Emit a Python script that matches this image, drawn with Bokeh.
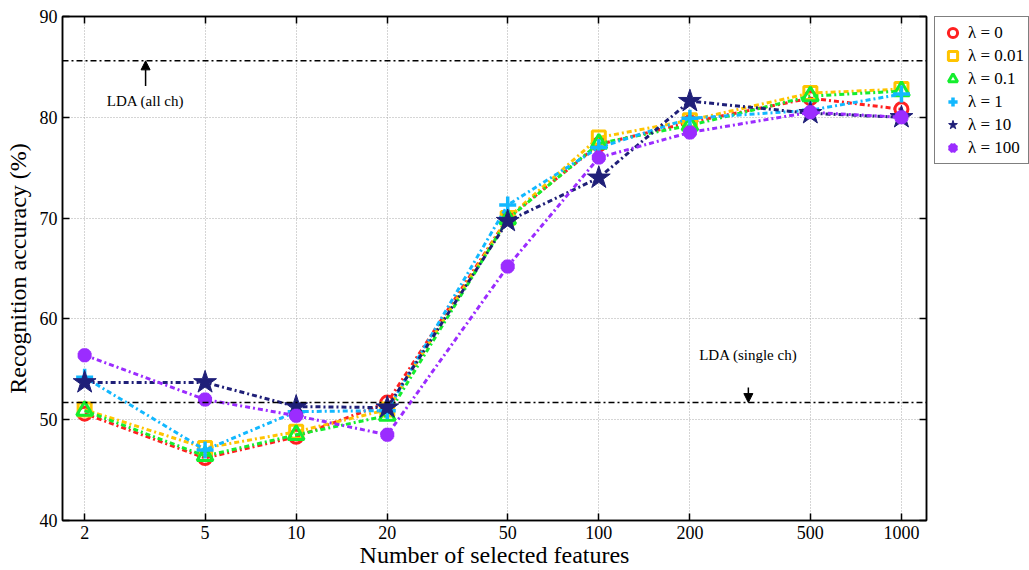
from bokeh.plotting import figure
from bokeh.layouts import row
from bokeh.models import (Range1d, FixedTicker, LinearAxis, LogAxis, Legend, LegendItem,
                          Span, Arrow, NormalHead, Label)
from bokeh.embed import file_html
from bokeh.resources import INLINE

# ---------------- data ----------------
features = [2, 5, 10, 20, 50, 100, 200, 500, 1000]
lam_0    = [50.6, 46.2, 48.3, 51.7, 70.0, 77.3, 79.5, 81.9, 80.8]
lam_001  = [51.0, 47.2, 48.8, 51.0, 70.0, 78.0, 79.7, 82.4, 82.8]
lam_01   = [50.9, 46.4, 48.5, 50.4, 69.9, 77.4, 79.2, 82.1, 82.6]
lam_1    = [54.2, 47.0, 50.8, 50.9, 71.3, 77.0, 79.9, 80.7, 82.3]
lam_10   = [53.7, 53.7, 51.3, 51.2, 69.7, 74.0, 81.6, 80.4, 80.0]
lam_100  = [56.4, 52.0, 50.4, 48.5, 65.2, 76.0, 78.5, 80.5, 80.0]
labels   = ["λ = 0", "λ = 0.01", "λ = 0.1", "λ = 1", "λ = 10", "λ = 100"]

x_ticks = [2, 5, 10, 20, 50, 100, 200, 500, 1000]
y_ticks = [40, 50, 60, 70, 80, 90]

lda_all = 85.6
lda_single = 51.7
arrow_all_x = 3.18
arrow_single_x = 312

FONT = "Liberation Serif"

p = figure(width=930, height=570, x_axis_type="log",
           x_range=Range1d(1.69, 1210), y_range=Range1d(40, 90),
           output_backend="svg", toolbar_location=None,
           min_border_left=62, min_border_right=4, min_border_top=16, min_border_bottom=50)
p.background_fill_color = "white"
p.border_fill_color = "white"
p.outline_line_color = "black"
p.outline_line_width = 1.5

# axes
for ax in (p.xaxis[0], p.yaxis[0]):
    ax.major_tick_in = 7
    ax.major_tick_out = 0
    ax.minor_tick_in = 0
    ax.minor_tick_out = 0
    ax.axis_line_width = 1.5
    ax.major_tick_line_width = 1.5
    ax.major_label_text_font = FONT
    ax.major_label_text_font_size = "18px"
    ax.major_label_text_color = "black"
    ax.axis_label_text_font = FONT
    ax.axis_label_text_font_size = "24px"
    ax.axis_label_text_font_style = "normal"
    ax.axis_label_text_color = "black"

p.xaxis[0].ticker = FixedTicker(ticks=x_ticks, minor_ticks=[])
p.yaxis[0].ticker = FixedTicker(ticks=y_ticks, minor_ticks=[])
p.xaxis[0].axis_label = "Number of selected features"
p.yaxis[0].axis_label = "Recognition accuracy (%)"
p.xaxis[0].major_label_standoff = 5
p.yaxis[0].major_label_standoff = 5
p.xaxis[0].axis_label_standoff = 0
p.yaxis[0].axis_label_standoff = 6

top = LogAxis(ticker=FixedTicker(ticks=x_ticks, minor_ticks=[]),
              major_label_overrides={t: "" for t in x_ticks},
              major_tick_in=7, major_tick_out=0, minor_tick_in=0, minor_tick_out=0,
              axis_line_width=1.5, major_tick_line_width=1.5, major_label_standoff=0)
right = LinearAxis(ticker=FixedTicker(ticks=y_ticks, minor_ticks=[]),
                   major_label_overrides={t: "" for t in y_ticks},
                   major_tick_in=7, major_tick_out=0, minor_tick_in=0, minor_tick_out=0,
                   axis_line_width=1.5, major_tick_line_width=1.5, major_label_standoff=0)
p.add_layout(top, "above")
p.add_layout(right, "right")

p.xgrid.grid_line_color = "#aaaaaa"
p.xgrid.grid_line_dash = "1 2"
p.xgrid.grid_line_width = 1
p.ygrid.grid_line_color = "#aaaaaa"
p.ygrid.grid_line_dash = "1 2"
p.ygrid.grid_line_width = 1

# reference lines
for v in (lda_all, lda_single):
    p.add_layout(Span(location=v, dimension="width", line_color="black",
                      line_dash="6 3 2 3", line_width=1.5))

p.add_layout(Arrow(end=NormalHead(size=9, fill_color="black", line_color="black"),
                   x_start=arrow_all_x, y_start=83.1, x_end=arrow_all_x, y_end=lda_all,
                   line_width=1.5))
p.add_layout(Label(x=arrow_all_x, y=81.6, text="LDA (all ch)", text_font=FONT, text_color="black",
                   text_font_size="15px", text_align="center", text_baseline="middle"))
p.add_layout(Arrow(end=NormalHead(size=9, fill_color="black", line_color="black"),
                   x_start=arrow_single_x, y_start=53.2, x_end=arrow_single_x, y_end=lda_single,
                   line_width=1.5))
p.add_layout(Label(x=arrow_single_x, y=56.4, text="LDA (single ch)", text_font=FONT, text_color="black",
                   text_font_size="15px", text_align="center", text_baseline="middle"))

series = [lam_0, lam_001, lam_01, lam_1, lam_10, lam_100]
colors = ["#ff2020", "#ffc400", "#14ee2e", "#12b8ff", "#1f1f78", "#9b2cff"]
markers = ["circle", "square", "triangle", "cross", "star", "asterisk"]
sizes = [13, 13, 16, 17, 24, 14]
widths = [3, 3, 3, 3.5, 1, 5]
fills = [None, None, None, None, "self", "self"]
dash = "5 3 2 3"

# legend-only figure on the right
lg = figure(width=99, height=570, x_range=Range1d(0, 1), y_range=Range1d(0, 1),
            output_backend="svg", toolbar_location=None,
            min_border_left=4, min_border_right=0, min_border_top=14, min_border_bottom=0)
lg.axis.visible = False
lg.grid.visible = False
lg.outline_line_color = None
lg.background_fill_color = "white"
lg.border_fill_color = "white"

items = []
for ys, c, lab, m, s, w, f in zip(series, colors, labels, markers, sizes, widths, fills):
    fc = c if f == "self" else None
    p.line(features, ys, line_color=c, line_width=3, line_dash=dash)
    p.scatter(features, ys, marker=m, size=s, fill_color=fc, line_color=c, line_width=w)
    r = lg.scatter([-5], [-5], marker=m, size=s, fill_color=fc, line_color=c,
                   line_width=w if m != "star" else 1)
    items.append(LegendItem(label=lab, renderers=[r]))

legend = Legend(items=items, location="top_left", border_line_color="black", border_line_width=1.2,
                label_text_font=FONT, label_text_font_size="17px", label_text_color="black",
                glyph_width=27, glyph_height=23, label_height=20, spacing=0, padding=4,
                label_standoff=2, margin=0, background_fill_alpha=1)
lg.add_layout(legend, "center")

layout = row(p, lg, spacing=0)
open("out.html", "w").write(file_html(layout, INLINE))
